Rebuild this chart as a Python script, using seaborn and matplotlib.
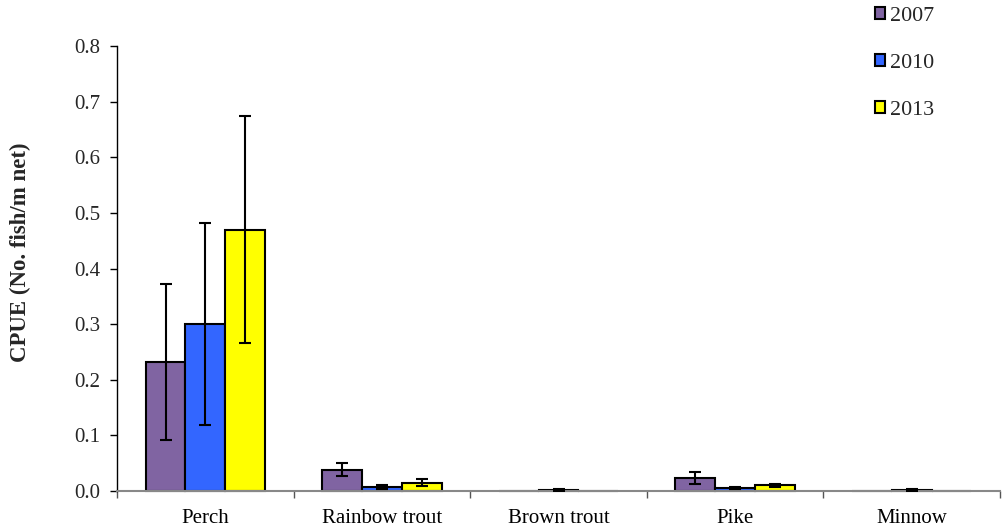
import matplotlib
matplotlib.use("Agg")
import matplotlib.pyplot as plt
import seaborn as sns
import pandas as pd
import numpy as np

species = ["Perch", "Rainbow trout", "Brown trout", "Pike", "Minnow"]
years = ["2007", "2010", "2013"]
cpue_2007 = [0.232, 0.0385, 0.0, 0.0234, 0.0]
cpue_2010 = [0.300, 0.007, 0.002, 0.005, 0.002]
cpue_2013 = [0.470, 0.015, 0.0, 0.010, 0.0]
err_2007 = [0.141, 0.011, 0.0, 0.011, 0.0]
err_2010 = [0.181, 0.004, 0.002, 0.002, 0.002]
err_2013 = [0.204, 0.006, 0.0, 0.003, 0.0]

colors = ["#8064A2", "#3366FF", "#FFFF00"]

rows = []
for yr, vals, errs in zip(years, [cpue_2007, cpue_2010, cpue_2013],
                          [err_2007, err_2010, err_2013]):
    for sp, v, e in zip(species, vals, errs):
        rows.append({"Species": sp, "Year": yr, "CPUE": v, "SE": e})
df = pd.DataFrame(rows)

sns.set_theme(style="white")
plt.rcParams["font.family"] = ["Liberation Serif", "DejaVu Serif"]

fig = plt.figure(figsize=(10.04, 5.31), dpi=100)
ax = fig.add_axes([117 / 1004, 1 - 491 / 531, (1000 - 117) / 1004, (491 - 46) / 531])

sns.barplot(data=df, x="Species", y="CPUE", hue="Year", order=species,
            hue_order=years, palette=colors, width=0.675, gap=0,
            edgecolor="black", linewidth=1.5, errorbar=None, ax=ax,
            saturation=1)

# error bars placed at the centre of each drawn bar
bars = ax.patches[:len(df)]
for p, (_, r) in zip(bars, df.iterrows()):
    p.set_clip_on(False)
    if r["SE"] > 0:
        cx = p.get_x() + p.get_width() / 2
        ax.errorbar(cx, r["CPUE"], yerr=r["SE"], fmt="none", ecolor="black",
                    elinewidth=1.5, capsize=4.3, capthick=1.5, zorder=5)

ax.set_ylim(0, 0.8)
ax.set_xlim(-0.5, len(species) - 0.5)
yt = np.arange(0, 0.81, 0.1)
ax.set_yticks(yt)
ax.set_yticklabels([f"{t:.1f}" for t in yt], fontsize=15)
ax.set_xticks(range(len(species)))
ax.set_xticklabels(species, fontsize=15)
ax.set_xticks(np.arange(-0.5, len(species), 1.0), minor=True)
ax.tick_params(axis="x", which="major", length=0, pad=13, colors="black")
ax.tick_params(axis="x", which="minor", length=5, direction="out",
               color="#555555", width=1, bottom=True)
ax.tick_params(axis="y", length=5, direction="out", color="black", width=1,
               left=True, pad=7)
ax.set_xlabel("")
ax.set_ylabel("CPUE (No. fish/m net)", fontsize=16.5, fontweight="bold")
ax.yaxis.set_label_coords(-0.0975, 0.537)

for s in ["top", "right"]:
    ax.spines[s].set_visible(False)
ax.spines["left"].set_color("black")
ax.spines["left"].set_linewidth(1)
ax.spines["bottom"].set_color("#888888")
ax.spines["bottom"].set_linewidth(1.5)

handles, labels = ax.get_legend_handles_labels()
leg = ax.legend(handles, labels, loc="upper left",
                bbox_to_anchor=(875 / 1004, 1 - 7 / 531),
                bbox_transform=fig.transFigure, frameon=False, fontsize=15.8,
                handlelength=0.45, handleheight=0.45, handletextpad=0.25,
                labelspacing=1.27, borderaxespad=0, borderpad=0)
for h in leg.legend_handles:
    h.set_edgecolor("black")
    h.set_linewidth(1.5)

fig.savefig("out.png", dpi=100)
